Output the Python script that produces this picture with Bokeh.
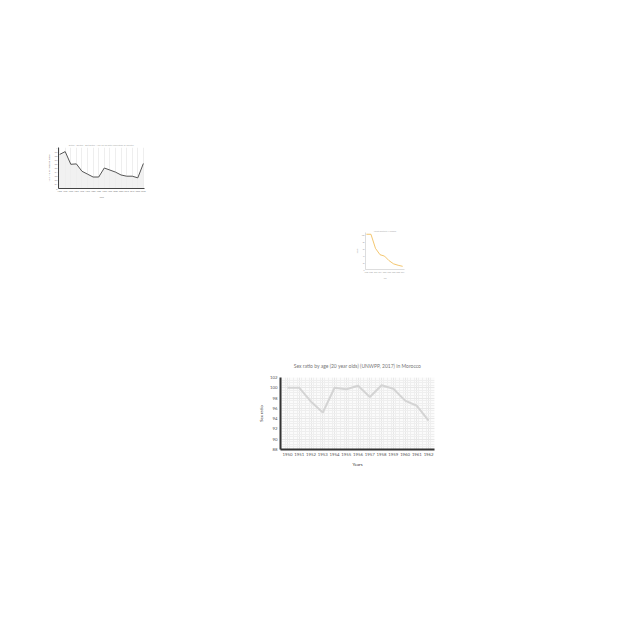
import numpy as np
from bokeh.plotting import figure
from bokeh.layouts import column, row
from bokeh.models import Spacer, Range1d, FixedTicker, Title
from bokeh.embed import file_html
from bokeh.resources import INLINE

# ---- main chart data ----
years = ["1950", "1951", "1952", "1953", "1954", "1955", "1956",
         "1957", "1958", "1959", "1960", "1961", "1962"]
sex_ratio = [100.0, 100.0, 97.3, 95.2, 100.0, 99.7, 100.4,
             98.2, 100.5, 99.8, 97.5, 96.5, 93.6]
y_ticks = [88, 90, 92, 94, 96, 98, 100, 102]

# ---- thumbnail 1 data ----
thumb1_values = [0.83, 0.90, 0.59, 0.60, 0.42, 0.35, 0.28, 0.28,
                 0.50, 0.45, 0.40, 0.33, 0.30, 0.30, 0.26, 0.61]
# ---- thumbnail 2 data ----
thumb2_values = [100, 100, 60, 42, 38, 25, 16, 12, 9]

FONT = "Lato"


def style_axes(fig, line_color, line_width, label_size, label_color, standoff):
    for ax in (fig.xaxis, fig.yaxis):
        ax.axis_line_color = line_color
        ax.axis_line_width = line_width
        ax.major_tick_line_color = None
        ax.minor_tick_line_color = None
        ax.major_tick_out = 0
        ax.major_tick_in = 0
        ax.minor_tick_out = 0
        ax.minor_tick_in = 0
        ax.major_label_text_font = FONT
        ax.major_label_text_font_size = label_size
        ax.major_label_text_color = label_color
        ax.axis_label_text_font = FONT
        ax.axis_label_text_font_size = label_size
        ax.axis_label_text_font_style = "normal"
        ax.axis_label_text_color = label_color
        ax.major_label_standoff = standoff
        ax.axis_label_standoff = standoff


# ---------------- main chart ----------------
xs = list(range(len(years)))
p = figure(width=185, height=112, output_backend="svg", toolbar_location=None,
           x_range=Range1d(-0.6, len(years) - 0.5), y_range=Range1d(88, 102),
           min_border_left=0, min_border_right=7, min_border_top=2, min_border_bottom=1)
p.title.text = "Sex ratio by age (20 year olds) (UNWPP, 2017) in Morocco"
p.title.align = "center"
p.title.text_font = FONT
p.title.text_font_size = "5px"
p.title.text_font_style = "normal"
p.title.text_color = "#777777"
p.title.offset = 0
p.title.standoff = 7
# small empty panel that opens a gap between the title and the plot area
p.add_layout(Title(text=" ", text_font_size="3px", standoff=0), "above")
p.line(xs, sex_ratio, line_color="#d4d4d4", line_width=2)

p.xaxis.ticker = FixedTicker(ticks=xs, minor_ticks=list(np.arange(-0.5, len(years), 1/3)))
p.xaxis.major_label_overrides = {i: y for i, y in enumerate(years)}
p.yaxis.ticker = FixedTicker(ticks=y_ticks, minor_ticks=list(np.arange(88, 102.01, 0.5)))
style_axes(p, "#333333", 2, "4.3px", "#555555", 3)
p.xaxis.axis_label_text_color = "#333333"
p.yaxis.axis_label_text_color = "#333333"
p.xaxis.axis_label = "Years"
p.yaxis.axis_label = "Sex ratio"
p.background_fill_color = "#fbfbfb"
p.outline_line_color = None
p.xgrid.grid_line_color = "#e8e8e8"
p.ygrid.grid_line_color = "#e8e8e8"
p.xgrid.minor_grid_line_color = "#efefef"
p.ygrid.minor_grid_line_color = "#efefef"

# ---------------- thumbnail 1 ----------------
t1x = list(range(len(thumb1_values)))
f1 = figure(width=105, height=60, output_backend="svg", toolbar_location=None,
            x_range=Range1d(-0.2, len(thumb1_values) - 0.8), y_range=Range1d(0, 1.0),
            min_border_left=1, min_border_right=6, min_border_top=1, min_border_bottom=1)
f1.title.text = "Births - Deaths - Net Births - Age 20-50 Total Population of Country"
f1.title.align = "center"
f1.title.text_font = FONT
f1.title.text_font_size = "2.2px"
f1.title.text_font_style = "normal"
f1.title.text_color = "#aaaaaa"
f1.title.standoff = 2
f1.varea(t1x, [0] * len(t1x), thumb1_values, fill_color="#eeeeee", fill_alpha=0.8)
f1.line(t1x, thumb1_values, line_color="#555555", line_width=1)
f1.xaxis.ticker = FixedTicker(ticks=t1x)
f1.xaxis.major_label_overrides = {i: str(1950 + 5 * i) for i in t1x}
f1.yaxis.ticker = FixedTicker(ticks=[0, 0.1, 0.2, 0.3, 0.4, 0.5, 0.6, 0.7, 0.8, 0.9, 1.0])
style_axes(f1, "#444444", 1, "2px", "#777777", 1)
f1.xaxis.axis_label = "Years"
f1.yaxis.axis_label = "Net births per thousand people"
f1.background_fill_color = "#ffffff"
f1.outline_line_color = None
f1.xgrid.grid_line_color = "#eeeeee"
f1.ygrid.grid_line_color = None

# ---------------- thumbnail 2 ----------------
t2x = list(range(len(thumb2_values)))
f2 = figure(width=54, height=54, output_backend="svg", toolbar_location=None,
            x_range=Range1d(-0.2, len(thumb2_values) - 0.6), y_range=Range1d(0, 105),
            min_border_left=1, min_border_right=2, min_border_top=1, min_border_bottom=1)
f2.title.text = "Infant mortality, Morocco"
f2.title.align = "center"
f2.title.text_font = FONT
f2.title.text_font_size = "2px"
f2.title.text_font_style = "normal"
f2.title.text_color = "#aaaaaa"
f2.title.standoff = 1
f2.line(t2x, thumb2_values, line_color="#f0b84a", line_width=0.8)
f2.xaxis.ticker = FixedTicker(ticks=t2x)
f2.xaxis.major_label_overrides = {i: str(1950 + 8 * i) for i in t2x}
f2.yaxis.ticker = FixedTicker(ticks=[0, 20, 40, 60, 80, 100])
style_axes(f2, "#bbbbbb", 0.5, "1.6px", "#999999", 1)
f2.xaxis.axis_label = "Year"
f2.yaxis.axis_label = "Deaths"
f2.outline_line_color = None
f2.xgrid.grid_line_color = None
f2.ygrid.grid_line_color = None

layout = column(
    Spacer(width=640, height=140),
    row(Spacer(width=45, height=60), f1),
    Spacer(width=640, height=27),
    row(Spacer(width=352, height=54), f2),
    Spacer(width=640, height=76),
    row(Spacer(width=256, height=112), p),
)

open("out.html", "w").write(file_html(layout, INLINE))
